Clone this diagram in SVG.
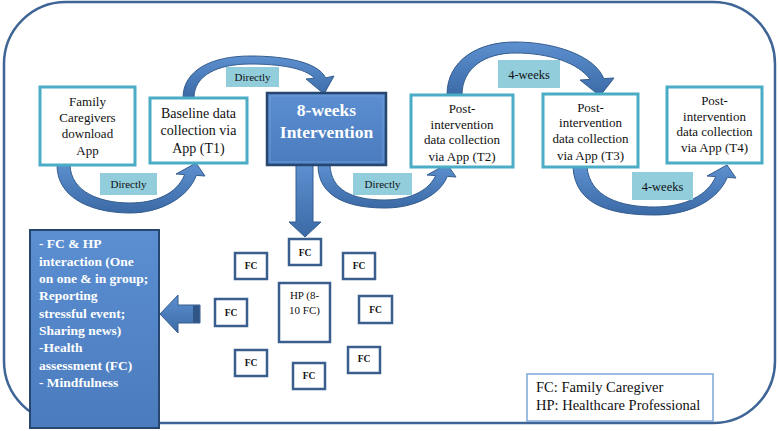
<svg xmlns="http://www.w3.org/2000/svg" width="778" height="431" viewBox="0 0 778 431">
<defs>
<linearGradient id="ag" x1="0" y1="0" x2="0" y2="1">
<stop offset="0" stop-color="#5d90d0"/>
<stop offset="1" stop-color="#3b6aa6"/>
</linearGradient>
<linearGradient id="bg" x1="0" y1="0" x2="0" y2="1">
<stop offset="0" stop-color="#5b8fd2"/>
<stop offset="1" stop-color="#4a7bbd"/>
</linearGradient>
<style>
.frame{fill:none;stroke:#3e6596;stroke-width:2.5}
.node{fill:#fff;stroke:#4bacc6;stroke-width:3}
.nt{font-family:"Liberation Serif",serif;font-size:13px;fill:#111;text-anchor:middle}
.arr{fill:url(#ag);stroke:#355d8e;stroke-width:1}
.lbl{fill:#92cddc}
.lt{font-family:"Liberation Serif",serif;font-size:11px;fill:#111;text-anchor:middle}
.lt2{font-family:"Liberation Serif",serif;font-size:12.5px;fill:#111;text-anchor:middle}
.blue{fill:url(#bg);stroke:#27476e;stroke-width:2}
.wt{font-family:"Liberation Serif",serif;font-weight:bold;fill:#fff}
.fc{fill:#fff;stroke:#3a5f8f;stroke-width:2.5}
.fct{font-family:"Liberation Serif",serif;font-weight:bold;font-size:9.5px;fill:#111;text-anchor:middle}
</style>
</defs>
<rect class="frame" x="4" y="2" width="771" height="421" rx="62" ry="62"/>
<g id="connectors">
<path class="arr" d="M57,165 C57,200 95,213 130,213 C160,213 188,198 196.3,175.4 L205,176 L196,163 L176,174 L184.7,174.6 C177,194 155,203 130,203 C100,203 71,192 70,165 Z"/>
<path class="arr" d="M183,98 C183,70 212,56 250,56 C285,56 318,62 325.6,77.9 L334,76 L324,94 L306,79 L314.4,78.1 C305,68 280,64 250,64 C218,64 194,75 194,98 Z"/>
<path class="arr" d="M318,165 C318,198 350,208 385,208 C415,208 440,195 447.3,176.4 L456,177 L447,164 L427,175 L435.7,175.6 C428,192 408,200 385,200 C352,200 331,190 330,165 Z"/>
<path class="arr" d="M447,95 C447,60 478,42 515,42 C555,42 595,56 603.8,78.6 L614,78 L600,96 L580,80 L590.2,79.4 C578,63 550,53 515,53 C485,53 462,68 462,95 Z"/>
<path class="arr" d="M573,167 C575,207 615,215 655,215 C690,215 718,200 727.3,177.4 L736,178 L727,165 L707,176 L715.7,176.6 C708,195 685,207 655,207 C620,207 590,197 587,167 Z"/>
<path class="arr" d="M296,165 L313,165 L313,222 L321,222 L305,237 L289,222 L296,222 Z"/>
<path class="arr" d="M200,305 L178,305 L178,295 L160,314 L178,333 L178,323 L200,323 Z"/>
<rect x="193" y="305.5" width="6.5" height="17" fill="#2f5585"/>
<rect class="lbl" x="100" y="173" width="57" height="22"/>
<text class="lt" x="128.5" y="188">Directly</text>
<rect class="lbl" x="226" y="67" width="53" height="20"/>
<text class="lt" x="252.5" y="81">Directly</text>
<rect class="lbl" x="353" y="173" width="59" height="22"/>
<text class="lt" x="382.5" y="188">Directly</text>
<rect class="lbl" x="498" y="60" width="62" height="28"/>
<text class="lt2" x="529" y="78.5">4-weeks</text>
<rect class="lbl" x="632" y="172" width="61" height="28"/>
<text class="lt2" x="662.5" y="190.5">4-weeks</text>
</g>
<g id="n-download">
<rect class="node" x="40" y="87" width="95" height="78"/>
<text class="nt" x="87.5" y="105.5">Family</text>
<text class="nt" x="87.5" y="121.5">Caregivers</text>
<text class="nt" x="87.5" y="137.5">download</text>
<text class="nt" x="87.5" y="154.5">App</text>
</g>
<g id="n-t1">
<rect class="node" x="150" y="98" width="97" height="65"/>
<text class="nt" x="198.5" y="118" style="font-size:14px">Baseline data</text>
<text class="nt" x="198.5" y="135" style="font-size:14px">collection via</text>
<text class="nt" x="198.5" y="153" style="font-size:14px">App (T1)</text>
</g>
<g id="n-intervention">
<rect class="blue" x="267" y="93" width="119" height="72" style="stroke-width:2.5"/>
<rect x="270" y="96" width="113" height="66" fill="none" stroke="#6d9ad6" stroke-width="1"/>
<text class="wt" x="326.5" y="116" text-anchor="middle" font-size="17.5">8-weeks</text>
<text class="wt" x="326.5" y="138" text-anchor="middle" font-size="17.5">Intervention</text>
</g>
<g id="n-t2">
<rect class="node" x="411" y="95" width="102" height="72"/>
<text class="nt" x="462" y="112.5">Post-</text>
<text class="nt" x="462" y="128.5">intervention</text>
<text class="nt" x="462" y="144">data collection</text>
<text class="nt" x="462" y="160.5">via App (T2)</text>
</g>
<g id="n-t3">
<rect class="node" x="543" y="94" width="95" height="73"/>
<text class="nt" x="590.5" y="111.5">Post-</text>
<text class="nt" x="590.5" y="126.5">intervention</text>
<text class="nt" x="590.5" y="142.5">data collection</text>
<text class="nt" x="590.5" y="159.5">via App (T3)</text>
</g>
<g id="n-t4">
<rect class="node" x="667" y="87" width="95" height="76"/>
<text class="nt" x="714.5" y="104.5">Post-</text>
<text class="nt" x="714.5" y="120.5">intervention</text>
<text class="nt" x="714.5" y="135.5">data collection</text>
<text class="nt" x="714.5" y="151.5">via App (T4)</text>
</g>
<g id="n-activities">
<rect class="blue" x="30" y="230" width="129" height="198"/>
<g class="wt" font-size="13.5">
<text x="39" y="248">- FC &amp; HP</text>
<text x="39" y="265.5">interaction (One</text>
<text x="39" y="283">on one &amp; in group;</text>
<text x="39" y="300.3">Reporting</text>
<text x="39" y="317.6">stressful event;</text>
<text x="39" y="335">Sharing news)</text>
<text x="39" y="352.2">-Health</text>
<text x="39" y="369.5">assessment (FC)</text>
<text x="39" y="386.8">- Mindfulness</text>
</g>
</g>
<g id="n-fc1"><rect class="fc" x="289" y="239" width="32" height="26"/><text class="fct" x="305" y="255.5">FC</text></g>
<g id="n-fc2"><rect class="fc" x="235" y="253" width="32" height="26"/><text class="fct" x="251" y="268.5">FC</text></g>
<g id="n-fc3"><rect class="fc" x="343" y="253" width="32" height="26"/><text class="fct" x="359" y="268.5">FC</text></g>
<g id="n-fc4"><rect class="fc" x="215" y="299" width="32" height="27"/><text class="fct" x="231" y="315.5">FC</text></g>
<g id="n-fc5"><rect class="fc" x="359" y="296" width="33" height="27"/><text class="fct" x="375.5" y="312.5">FC</text></g>
<g id="n-fc6"><rect class="fc" x="235" y="350" width="32" height="26"/><text class="fct" x="251" y="365.5">FC</text></g>
<g id="n-fc7"><rect class="fc" x="348" y="347" width="32" height="26"/><text class="fct" x="364" y="362">FC</text></g>
<g id="n-fc8"><rect class="fc" x="293" y="363" width="32" height="26"/><text class="fct" x="309" y="378.5">FC</text></g>
<g id="n-hp">
<rect class="fc" x="279" y="283" width="51" height="59"/>
<text class="nt" x="304.5" y="299" style="font-size:11px">HP (8-</text>
<text class="nt" x="304.5" y="314" style="font-size:11px">10 FC)</text>
</g>
<g id="legend">
<rect x="527" y="374" width="186" height="47" fill="#fff" stroke="#7ea6d8" stroke-width="1.5"/>
<text x="536" y="392" font-family="Liberation Serif, serif" font-size="14.5" fill="#111">FC: Family Caregiver</text>
<text x="536" y="410" font-family="Liberation Serif, serif" font-size="14.5" fill="#111">HP: Healthcare Professional</text>
</g>
</svg>
